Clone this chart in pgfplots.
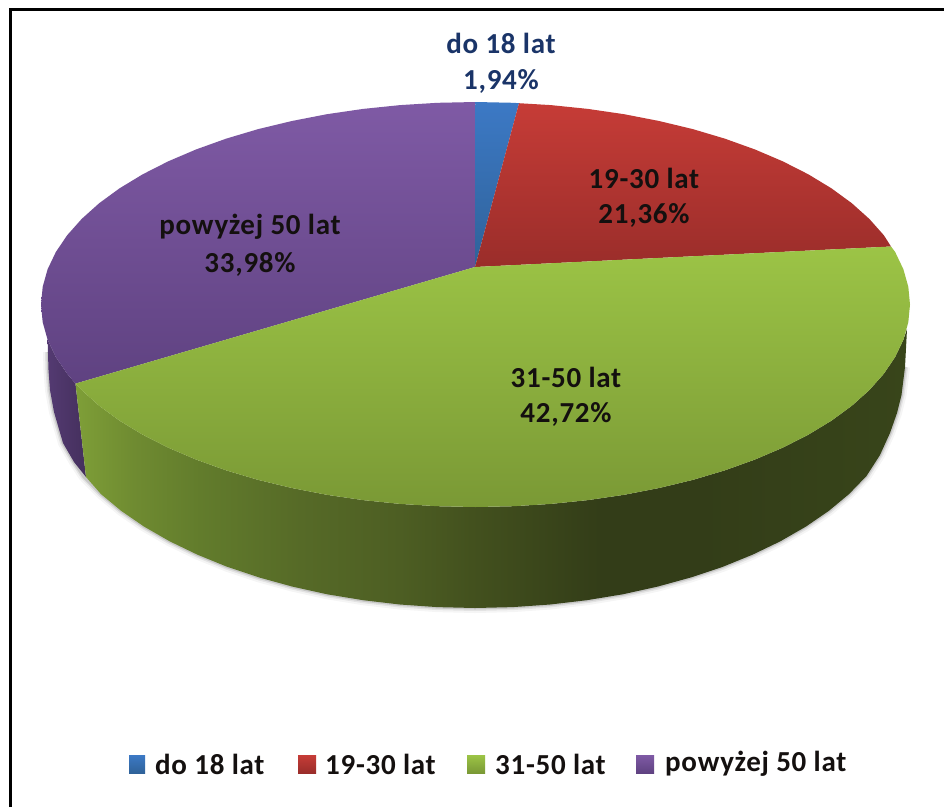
\documentclass[border=0pt]{standalone}
\usepackage{pgfplots}
\pgfplotsset{compat=1.18}
\usepackage{fontspec}
\setmainfont{Carlito}[LetterSpace=2.5]
\definecolor{bT}{HTML}{3C79C5}\definecolor{bB}{HTML}{2F6299}
\definecolor{rT}{HTML}{C63C37}\definecolor{rB}{HTML}{9A2D2A}
\definecolor{gT}{HTML}{9CC446}\definecolor{gB}{HTML}{7A9935}
\definecolor{pT}{HTML}{7F5AA5}\definecolor{pB}{HTML}{5F4281}
\definecolor{s0}{HTML}{7D9D37}\definecolor{s1}{HTML}{6F8B31}\definecolor{s2}{HTML}{627C2C}
\definecolor{s3}{HTML}{566A27}\definecolor{s4}{HTML}{4D5E23}\definecolor{s5}{HTML}{43511E}
\definecolor{s6}{HTML}{333D18}\definecolor{s7}{HTML}{38451A}
\definecolor{dkText}{HTML}{14100F}
\definecolor{navy}{HTML}{1A3468}
\pgfdeclarehorizontalshading{greenside}{100bp}{color(0bp)=(s0); color(25.3bp)=(s0); color(28.5bp)=(s1); color(32.5bp)=(s2); color(38.5bp)=(s3); color(44.5bp)=(s4); color(48.8bp)=(s5); color(56.5bp)=(s6); color(62.5bp)=(s6); color(75bp)=(s7); color(100bp)=(s7)}
\newcommand{\lab}{\fontsize{29}{34}\selectfont\bfseries}
\begin{document}
\begin{tikzpicture}
\begin{axis}[scale only axis,width=944pt,height=807pt,xmin=0,xmax=944,ymin=0,ymax=807,y dir=reverse,hide axis]
% page background
\addplot[fill=white,draw=none] coordinates {(0,0)(944,0)(944,807)(0,807)};
% frame
\addplot[black,line width=3.4pt] coordinates {(10.6,807)(10.6,9.6)(944,9.6)};
% soft shadow round the foot of the pie
\addplot[black,opacity=0.04,line width=10pt,line join=round] coordinates {(48,352)(48.5,370)(50,390)(54,412)(63,443)(74,462)(83.5,476.4)(100.9,494)(121.1,510.8)(144.1,526.6)(169.5,541.2)(197.3,554.6)(227.2,566.8)(259,577.4)(292.4,586.6)(327.3,594.3)(363.2,600.2)(400,604.5)(437.3,607.1)(475,608)(512.7,607.1)(550,604.5)(586.8,600.2)(622.7,594.3)(657.6,586.6)(691,577.4)(722.8,566.8)(752.7,554.6)(780.5,541.2)(805.9,526.6)(828.9,510.8)(849.1,494)(866.5,476)(880,455)(890,433)(897,413)(901.5,395)(905,367)};
\addplot[black,opacity=0.07,line width=6pt,line join=round] coordinates {(48,352)(48.5,370)(50,390)(54,412)(63,443)(74,462)(83.5,476.4)(100.9,494)(121.1,510.8)(144.1,526.6)(169.5,541.2)(197.3,554.6)(227.2,566.8)(259,577.4)(292.4,586.6)(327.3,594.3)(363.2,600.2)(400,604.5)(437.3,607.1)(475,608)(512.7,607.1)(550,604.5)(586.8,600.2)(622.7,594.3)(657.6,586.6)(691,577.4)(722.8,566.8)(752.7,554.6)(780.5,541.2)(805.9,526.6)(828.9,510.8)(849.1,494)(866.5,476)(880,455)(890,433)(897,413)(901.5,395)(905,367)};
\addplot[black,opacity=0.12,line width=3pt,line join=round] coordinates {(48,352)(48.5,370)(50,390)(54,412)(63,443)(74,462)(83.5,476.4)(100.9,494)(121.1,510.8)(144.1,526.6)(169.5,541.2)(197.3,554.6)(227.2,566.8)(259,577.4)(292.4,586.6)(327.3,594.3)(363.2,600.2)(400,604.5)(437.3,607.1)(475,608)(512.7,607.1)(550,604.5)(586.8,600.2)(622.7,594.3)(657.6,586.6)(691,577.4)(722.8,566.8)(752.7,554.6)(780.5,541.2)(805.9,526.6)(828.9,510.8)(849.1,494)(866.5,476)(880,455)(890,433)(897,413)(901.5,395)(905,367)};
% side of the purple slice
\addplot[draw=none,left color=pB!88!black,right color=pB!72!black] coordinates {(47.6,339.7)(55.8,356.9)(67.2,373.8)(75.5,383.6)(86,477)(74,462)(63,443)(54,412)(50,390)(48.5,370)};
% side of the green slice
\addplot[draw=none,shade,shading=greenside] coordinates {(75.5,383.6)(81.7,390.1)(99.2,405.8)(119.6,420.7)(142.7,434.7)(168.3,447.7)(196.2,459.6)(226.3,470.4)(258.2,479.9)(291.9,488)(326.9,494.8)(363.1,500.1)(400.1,503.9)(437.6,506.2)(475.5,507)(513.4,506.2)(550.9,503.9)(587.9,500.1)(624.1,494.8)(659.1,488)(692.8,479.9)(724.7,470.4)(754.8,459.6)(782.7,447.7)(808.3,434.7)(831.4,420.7)(851.8,405.8)(869.3,390.1)(883.8,373.8)(895.2,356.9)(903.4,339.7)(907,329)(905,367)(901.5,395)(897,413)(890,433)(880,455)(866.5,476)(849.1,494)(828.9,510.8)(805.9,526.6)(780.5,541.2)(752.7,554.6)(722.8,566.8)(691,577.4)(657.6,586.6)(622.7,594.3)(586.8,600.2)(550,604.5)(512.7,607.1)(475,608)(437.3,607.1)(400,604.5)(363.2,600.2)(327.3,594.3)(292.4,586.6)(259,577.4)(227.2,566.8)(197.3,554.6)(169.5,541.2)(144.1,526.6)(121.1,510.8)(100.9,494)(86,477)};
% top: purple
\addplot[draw=none,top color=pT,bottom color=pB] coordinates {(475,267)(75.5,383.6)(67.2,373.8)(55.8,356.9)(47.6,339.7)(42.7,322.2)(41,304.5)(42.7,286.8)(47.6,269.3)(55.8,252.1)(67.2,235.2)(81.7,218.9)(99.2,203.2)(119.6,188.3)(142.7,174.3)(168.3,161.3)(196.2,149.4)(226.3,138.6)(258.2,129.1)(291.9,121)(326.9,114.2)(363.1,108.9)(400.1,105.1)(437.6,102.8)(475.5,102)};
% top: blue
\addplot[draw=none,top color=bT,bottom color=bB] coordinates {(475,267)(475.5,102)(513.4,102.8)(519,103.2)};
% top: red
\addplot[draw=none,top color=rT,bottom color=rB] coordinates {(475,267)(519,103.2)(550.9,105.1)(587.9,108.9)(624.1,114.2)(659.1,121)(692.8,129.1)(724.7,138.6)(754.8,149.4)(782.7,161.3)(808.3,174.3)(831.4,188.3)(851.8,203.2)(869.3,218.9)(883.8,235.2)(891,246.5)};
% top: green
\addplot[draw=none,top color=gT,bottom color=gB] coordinates {(475,267)(891,246.5)(895.2,252.1)(903.4,269.3)(908.3,286.8)(910,304.5)(908.3,322.2)(903.4,339.7)(895.2,356.9)(883.8,373.8)(869.3,390.1)(851.8,405.8)(831.4,420.7)(808.3,434.7)(782.7,447.7)(754.8,459.6)(724.7,470.4)(692.8,479.9)(659.1,488)(624.1,494.8)(587.9,500.1)(550.9,503.9)(513.4,506.2)(475.5,507)(437.6,506.2)(400.1,503.9)(363.1,500.1)(326.9,494.8)(291.9,488)(258.2,479.9)(226.3,470.4)(196.2,459.6)(168.3,447.7)(142.7,434.7)(119.6,420.7)(99.2,405.8)(81.7,390.1)(75.5,383.6)};
% legend keys
\addplot[draw=none,top color=bT,bottom color=bB] coordinates {(129,755)(145,755)(145,773)(129,773)};
\addplot[draw=none,top color=rT,bottom color=rB] coordinates {(298,755)(316,755)(316,773)(298,773)};
\addplot[draw=none,top color=gT,bottom color=gB] coordinates {(467,755)(485,755)(485,773)(467,773)};
\addplot[draw=none,top color=pT,bottom color=pB] coordinates {(636,755)(654,755)(654,773)(636,773)};
% labels
\node[text=navy,font=\lab] at (axis cs:501,43) {do 18 lat};
\node[text=navy,font=\lab] at (axis cs:501,81) {1,94\%};
\node[text=dkText,font=\lab] at (axis cs:644,178) {19-30 lat};
\node[text=dkText,font=\lab] at (axis cs:644,215) {21,36\%};
\node[text=dkText,font=\lab] at (axis cs:566,377) {31-50 lat};
\node[text=dkText,font=\lab] at (axis cs:566,414) {42,72\%};
\node[text=dkText,font=\lab] at (axis cs:250,227) {powyżej 50 lat};
\node[text=dkText,font=\lab] at (axis cs:250,264) {33,98\%};
\node[text=dkText,font=\lab,anchor=west,inner sep=0pt] at (axis cs:155,764) {do 18 lat};
\node[text=dkText,font=\lab,anchor=west,inner sep=0pt] at (axis cs:325,764) {19-30 lat};
\node[text=dkText,font=\lab,anchor=west,inner sep=0pt] at (axis cs:495,764) {31-50 lat};
\node[text=dkText,font=\lab,anchor=west,inner sep=0pt] at (axis cs:665,764) {powyżej 50 lat};
\end{axis}
\end{tikzpicture}
\end{document}
